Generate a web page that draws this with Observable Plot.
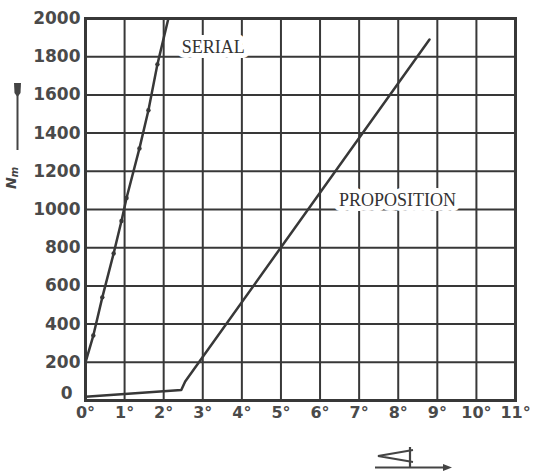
<!DOCTYPE html>
<html>
<head>
<meta charset="utf-8">
<script src="https://cdn.jsdelivr.net/npm/d3@7"></script>
<script src="https://cdn.jsdelivr.net/npm/@observablehq/plot@0.6"></script>
<style>
  html, body { margin: 0; padding: 0; background: #fff; }
  #chart { width: 544px; height: 474px; }
</style>
</head>
<body>
<div id="chart"></div>
<script>
// ---- data ----
const xTicks = [0, 1, 2, 3, 4, 5, 6, 7, 8, 9, 10, 11];
const yTicks = [0, 200, 400, 600, 800, 1000, 1200, 1400, 1600, 1800, 2000];

const serialAngle = [0, 0.2, 0.43, 0.72, 0.92, 1.05, 1.38, 1.61, 1.84, 2.12];
const serialNm    = [200, 340, 540, 770, 940, 1060, 1320, 1520, 1760, 2000];

const propAngle = [0, 2.45, 2.55, 8.8];
const propNm    = [20, 55, 100, 1890];

const labelNames = ["SERIAL", "PROPOSITION"];
const labelAngle = [3.27, 7.98];
const labelNm    = [1850, 1047];

const serial = serialAngle.map((a, i) => ({a, n: serialNm[i]}));
const prop = propAngle.map((a, i) => ({a, n: propNm[i]}));
const labels = labelNames.map((t, i) => ({t, a: labelAngle[i], n: labelNm[i]}));

const ink = "#383838";
const tickFont = "DejaVu Sans, sans-serif";

const chart = Plot.plot({
  width: 544,
  height: 474,
  marginLeft: 85,
  marginRight: 29,
  marginTop: 18,
  marginBottom: 74,
  style: {background: "#fff", color: ink},
  x: {domain: [0, 11]},
  y: {domain: [0, 2000]},
  marks: [
    Plot.ruleX(xTicks, {stroke: ink, strokeWidth: 2}),
    Plot.ruleY(yTicks, {stroke: ink, strokeWidth: 2}),
    Plot.frame({stroke: ink, strokeWidth: 3}),
    Plot.line(prop, {x: "a", y: "n", stroke: ink, strokeWidth: 2.5}),
    Plot.line(serial, {x: "a", y: "n", stroke: ink, strokeWidth: 2.5}),
    Plot.dot(serial.slice(1, -1), {x: "a", y: "n", r: 2.2, fill: ink, stroke: "none"}),
    Plot.text(labels, {x: "a", y: "n", text: "t", fontFamily: "Liberation Serif, serif",
      fontSize: 18, fill: "#333", stroke: "#fff", strokeWidth: 10, textAnchor: "middle"}),
    Plot.axisX(xTicks, {tickSize: 0, tickPadding: 6, tickFormat: d => d + "°",
      fontSize: 16, fontWeight: "bold", fontFamily: tickFont, fill: "#4a4a4a", label: null}),
    Plot.axisY(yTicks.filter(d => d > 0), {tickSize: 0, tickPadding: 5, tickFormat: d => String(d),
      fontSize: 17, fontWeight: "bold", fontFamily: tickFont, fill: "#4a4a4a", label: null}),
    Plot.axisY(yTicks.filter(d => d === 0), {tickSize: 0, tickPadding: 13, dy: -7, tickFormat: d => String(d),
      fontSize: 17, fontWeight: "bold", fontFamily: tickFont, fill: "#4a4a4a", label: null})
  ]
});

document.getElementById("chart").appendChild(chart);

// axis annotations
const svg = d3.select(chart);
const yl = svg.append("g").attr("fill", "#444").attr("stroke", "#444");
yl.append("text")
  .attr("transform", "translate(16,178) rotate(-90)")
  .attr("text-anchor", "middle")
  .attr("stroke", "none")
  .attr("font-family", "DejaVu Sans, sans-serif")
  .attr("font-size", 14)
  .attr("font-weight", "bold")
  .attr("font-style", "italic")
  .html('N<tspan font-size="10" dy="2">m</tspan>');
yl.append("line").attr("x1", 17.5).attr("x2", 17.5).attr("y1", 150).attr("y2", 94).attr("stroke-width", 2);
yl.append("path").attr("d", "M14,83 L21,83 L20.5,93 L17.5,97 L14.5,93 Z").attr("stroke", "none");

const xl = svg.append("g").attr("fill", "none").attr("stroke", "#444").attr("stroke-width", 2.2);
xl.append("path").attr("d", "M413,450 L378,456 L413,462");
xl.append("line").attr("x1", 410).attr("x2", 410).attr("y1", 447).attr("y2", 467);
xl.append("line").attr("x1", 375).attr("x2", 446).attr("y1", 467.5).attr("y2", 467.5);
xl.append("path").attr("d", "M443,464 L452,467.5 L443,471 Z").attr("fill", "#444").attr("stroke", "none");
</script>
</body>
</html>
